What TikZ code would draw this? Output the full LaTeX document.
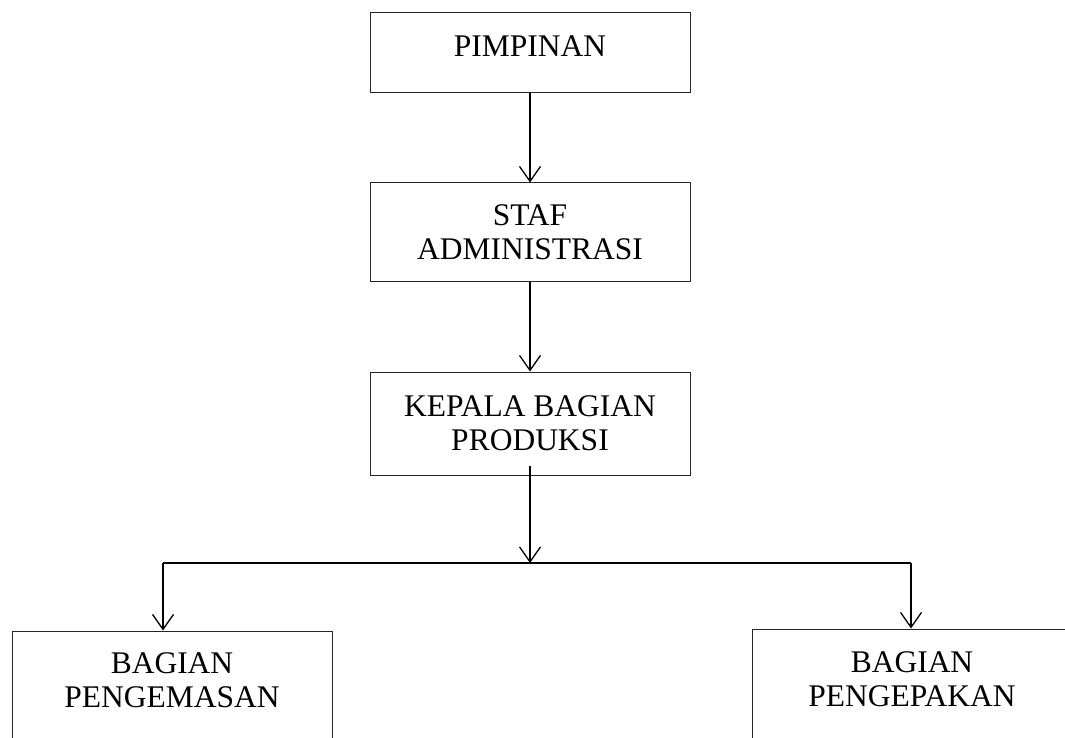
\documentclass[tikz,border=0pt]{standalone}
\usepackage{fontspec}
\setmainfont{Liberation Serif}
\usetikzlibrary{arrows.meta}
\begin{document}
\begin{tikzpicture}[x=1pt,y=1pt,
  box/.style={draw=black!85, line width=1pt, minimum width=320pt, align=center,
    font=\fontsize{31.5}{34}\selectfont, inner sep=0pt},
  conn/.style={line width=1.5pt, -{Straight Barb[length=15pt,width=21pt,line width=1.3pt]}},
  plain/.style={line width=1.5pt}]
\useasboundingbox (0,0) rectangle (1065,-738);
\begin{scope}
\clip (0,0) rectangle (1065,-738);
\node[box, minimum height=80pt, text depth=14pt] (pim) at (530,-53) {PIMPINAN};
\node[box, minimum height=98pt] (staf) at (530,-232) {STAF\\ADMINISTRASI};
\node[box, minimum height=103pt] (kep) at (530,-423.5) {KEPALA BAGIAN\\PRODUKSI};
\node[box, minimum height=130pt, text depth=31pt] (kem) at (172,-696) {BAGIAN\\PENGEMASAN};
\node[box, minimum height=130pt, text depth=29pt] (kep2) at (912,-694) {BAGIAN\\PENGEPAKAN};
\end{scope}
\coordinate (j) at (530,-563);
\coordinate (jl) at (163,-563);
\coordinate (jr) at (911,-563);
\draw[conn] (pim.south) -- (staf.north);
\draw[conn] (staf.south) -- (kep.north);
\draw[conn] ([yshift=10pt]kep.south) -- (j);
\draw[plain] (jl) -- (jr);
\draw[conn] (jl) -- (jl |- kem.north);
\draw[conn] (jr) -- (jr |- kep2.north);
\end{tikzpicture}
\end{document}
